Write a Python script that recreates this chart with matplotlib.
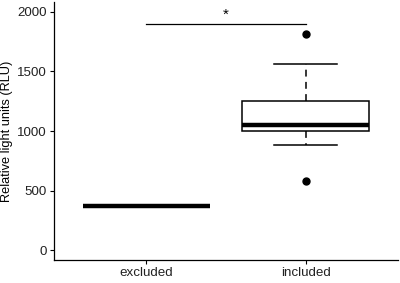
import matplotlib
matplotlib.use('Agg')
import matplotlib.pyplot as plt

plt.rcParams['font.family'] = ['Liberation Sans', 'DejaVu Sans']

groups = ['excluded', 'included']
# box stats (RLU)
q1 = [370, 1000]
med = [370, 1047]
q3 = [370, 1250]
whislo = [370, 880]
whishi = [370, 1560]
fliers = [[], [1812, 578]]

sig_y = 1900
sig_label = '*'
yticks = [0, 500, 1000, 1500, 2000]

stats = []
for i, g in enumerate(groups):
    stats.append(dict(label=g, q1=q1[i], med=med[i], q3=q3[i],
                      whislo=whislo[i], whishi=whishi[i], fliers=fliers[i]))

fig = plt.figure(figsize=(4, 2.83), dpi=100)
ax = fig.add_axes([0.135, 0.0813, 0.86, 0.912])

ax.bxp(stats, positions=[1, 2], widths=0.8, showcaps=True, patch_artist=True,
       boxprops=dict(facecolor='white', edgecolor='black', linewidth=1.1),
       medianprops=dict(color='black', linewidth=3.2, solid_capstyle='butt'),
       whiskerprops=dict(color='black', linewidth=1.1, linestyle=(0, (4.5, 3.5))),
       capprops=dict(color='black', linewidth=1.1),
       capwidths=0.4,
       flierprops=dict(marker='o', markerfacecolor='black', markeredgecolor='black',
                       markersize=5, linestyle='none'))

# significance bar
ax.plot([1, 2], [sig_y, sig_y], color='black', linewidth=0.9)
ax.text(1.5, sig_y + 15, sig_label, ha='center', va='bottom', fontsize=11)

ax.set_xlim(0.42, 2.58)
ax.set_ylim(-82, 2084)
ax.set_yticks(yticks)
ax.set_xticks([1, 2])
ax.set_xticklabels(groups)
ax.set_ylabel('Relative light units (RLU)', fontsize=9.2, labelpad=3)
ax.tick_params(labelsize=9.6, length=3, width=0.8, colors='black',
               labelcolor='#222222', pad=2)
for s in ['top', 'right']:
    ax.spines[s].set_visible(False)
for s in ['left', 'bottom']:
    ax.spines[s].set_linewidth(0.9)

plt.savefig('out.png', dpi=100)
